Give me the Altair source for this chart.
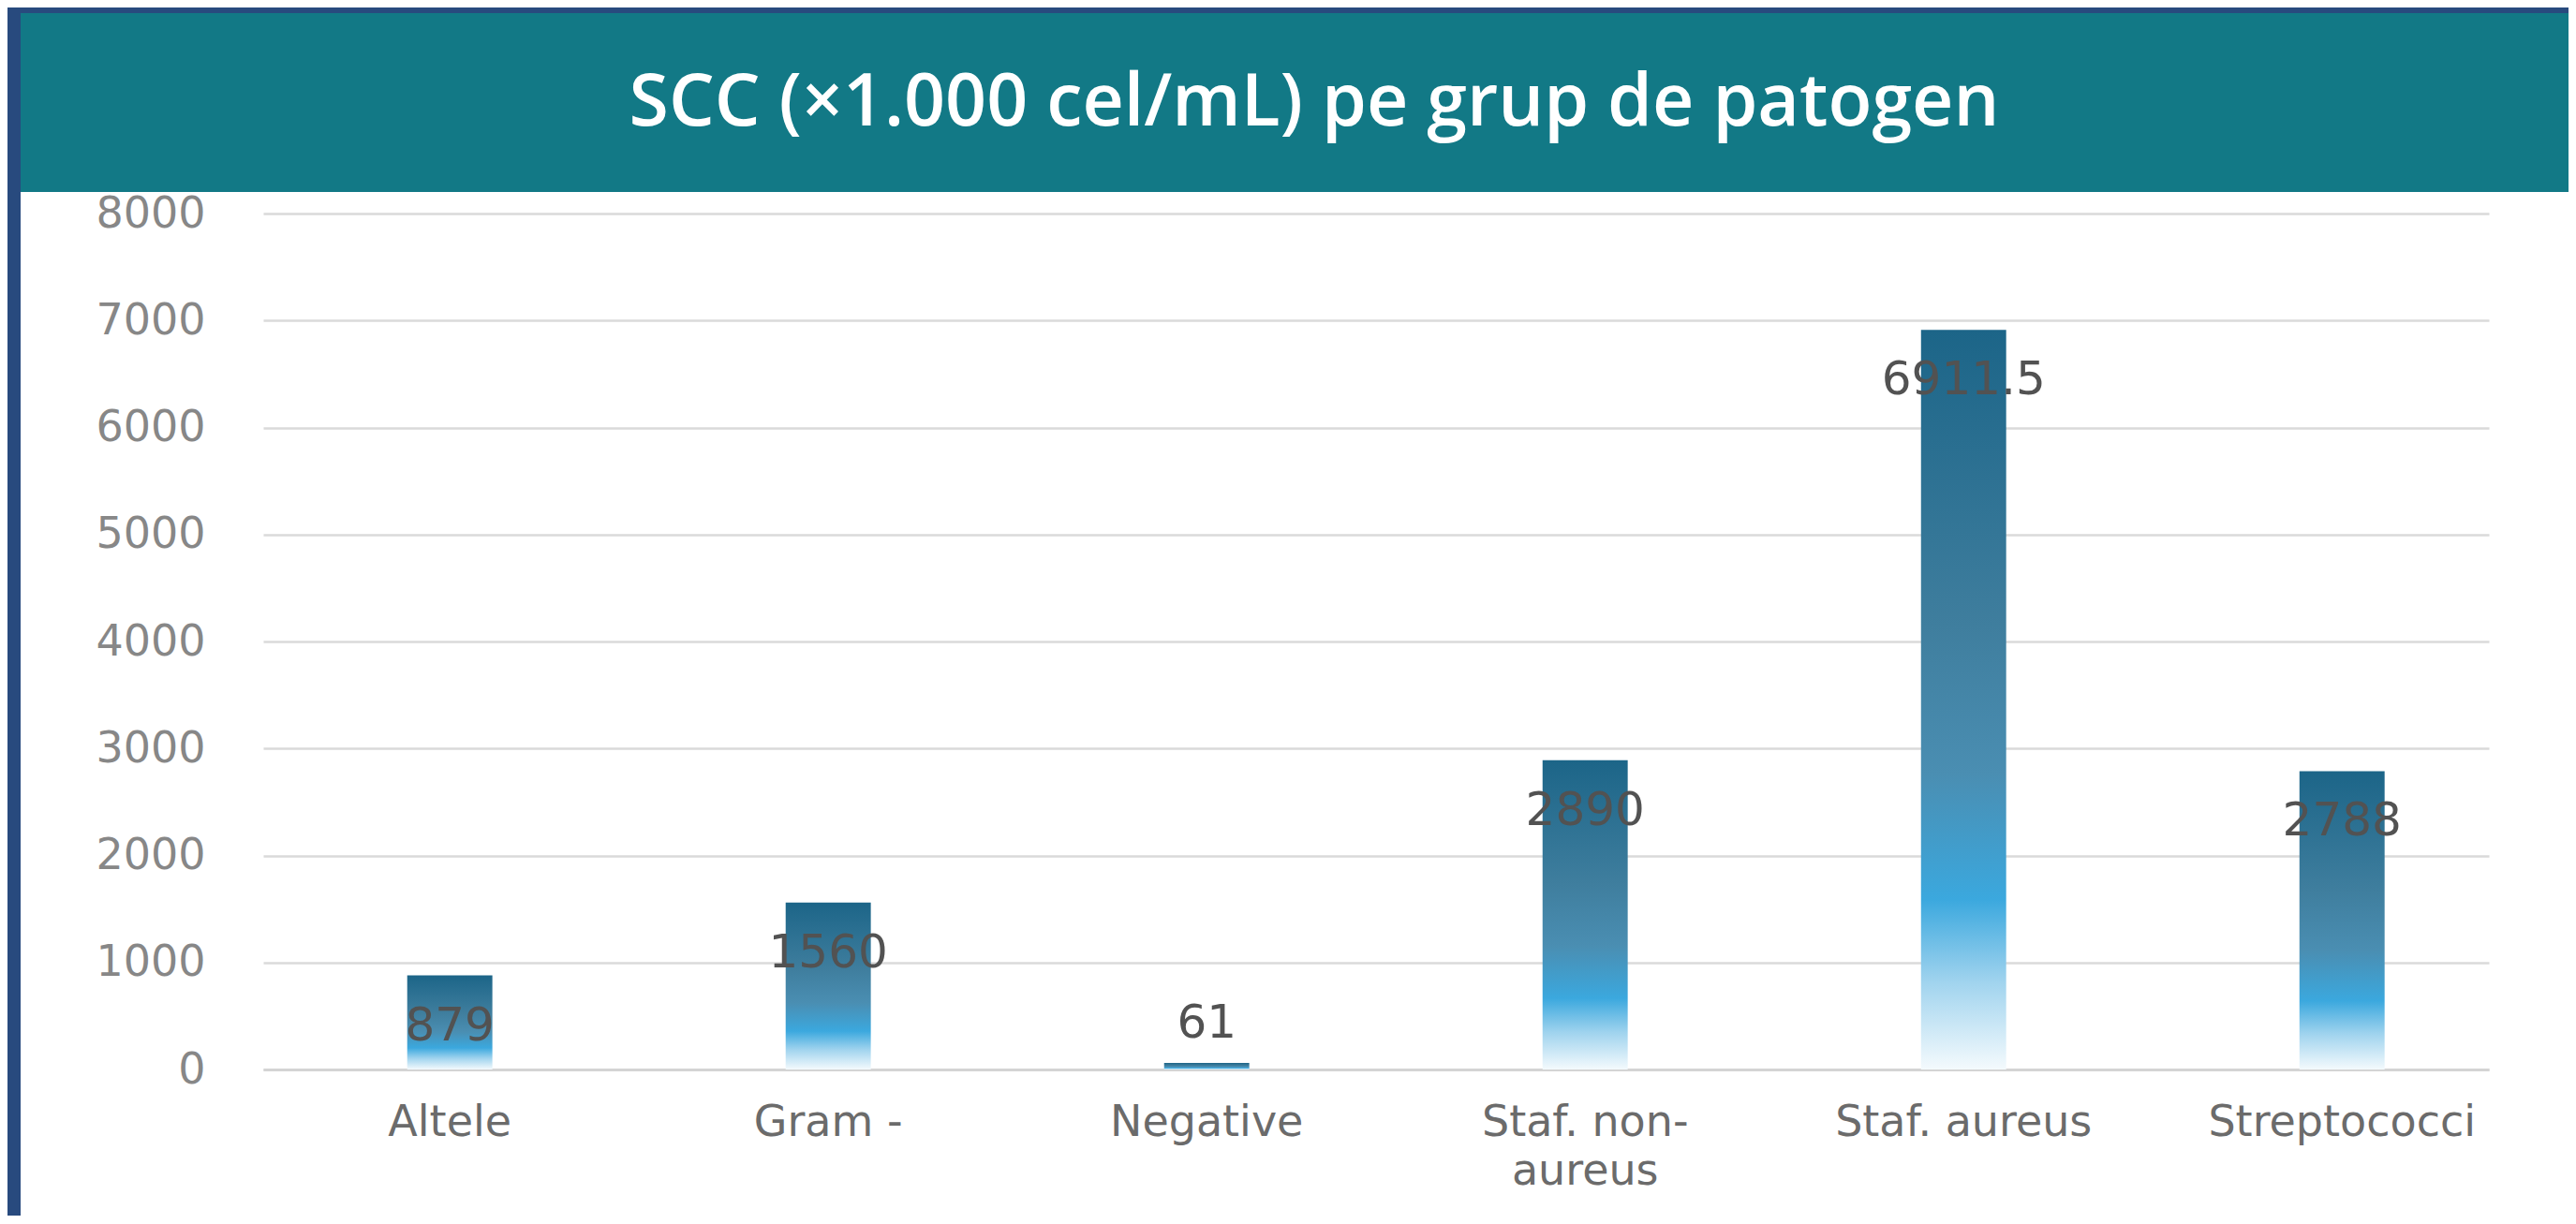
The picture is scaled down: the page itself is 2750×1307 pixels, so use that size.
import altair as alt
import pandas as pd

TITLE = "SCC (×1.000 cel/mL) pe grup de patogen"
categories = ["Altele", "Gram -", "Negative", "Staf. non-aureus", "Staf. aureus", "Streptococci"]
values = [879, 1560, 61, 2890, 6911.5, 2788]
value_labels = ["879", "1560", "61", "2890", "6911.5", "2788"]
y_ticks = [0, 1000, 2000, 3000, 4000, 5000, 6000, 7000, 8000]

df = pd.DataFrame({"cat": categories, "val": values, "lbl": value_labels})

DARK_BLUE = "#284a7e"
TEAL = "#127986"
FONT = "DejaVu Sans"

PLOT_LEFT = 259
PLOT_RIGHT = 2635

grad = alt.Gradient(
    gradient="linear", x1=0, x2=0, y1=0, y2=1,
    stops=[
        alt.GradientStop(offset=0, color="#1c6588"),
        alt.GradientStop(offset=0.40, color="#3f7e9e"),
        alt.GradientStop(offset=0.60, color="#4a8eb2"),
        alt.GradientStop(offset=0.77, color="#3ba8de"),
        alt.GradientStop(offset=0.88, color="#9fd3ee"),
        alt.GradientStop(offset=1, color="#f4fafd"),
    ],
)

x_scale = alt.Scale(range=[PLOT_LEFT, PLOT_RIGHT], paddingInner=0.775, paddingOuter=0.328, align=0.58)
x_enc = alt.X(
    "cat:N", sort=categories, scale=x_scale,
    axis=alt.Axis(
        title=None, labelAngle=0, labelFont=FONT, labelFontSize=46,
        labelColor="#6b6b6b", labelPadding=34, ticks=False, tickSize=0,
        domainColor="#d4d4d4", domainWidth=3, labelLineHeight=52, labelLimit=500,
        labelExpr="datum.label == 'Staf. non-aureus' ? ['Staf. non-', 'aureus'] : datum.label",
    ),
)
y_enc = alt.Y(
    "val:Q", scale=alt.Scale(domain=[0, 8000]),
    axis=alt.Axis(
        values=y_ticks, format="d", title=None, labelFont=FONT, labelFontSize=46,
        labelColor="#878787", labelPadding=62, ticks=False, tickSize=0,
        domain=False, gridColor="#dadada", gridWidth=2.5, offset=-PLOT_LEFT,
    ),
)

base = alt.Chart(df)
bars = base.mark_bar(color=grad).encode(x=x_enc, y=y_enc)
txt_in = base.transform_filter("datum.val >= 500").mark_text(
    font=FONT, fontSize=50, color="#525252", dy=54, baseline="middle"
).encode(x=alt.X("cat:N", sort=categories), y="val:Q", text="lbl:N")
txt_out = base.transform_filter("datum.val < 500").mark_text(
    font=FONT, fontSize=50, color="#525252", dy=-42, baseline="middle"
).encode(x=alt.X("cat:N", sort=categories), y="val:Q", text="lbl:N")

main = alt.layer(bars, txt_in, txt_out).properties(width=2720, height=914)

title_chart = alt.Chart(pd.DataFrame({"t": [TITLE]})).mark_text(
    font="Open Sans", fontSize=77, fontWeight=600, color="white",
    align="center", baseline="middle"
).encode(text="t:N", x=alt.value(1381), y=alt.value(97)).properties(
    width=2720, height=191, view=alt.ViewBackground(fill=TEAL, strokeWidth=0)
)

blank = pd.DataFrame({"a": [0]})
top_strip = alt.Chart(blank).mark_point(size=0, opacity=0, strokeWidth=0).encode(
    x=alt.value(0), y=alt.value(0)
).properties(width=2720, height=6, view=alt.ViewBackground(fill=DARK_BLUE, strokeWidth=0))

left_strip = alt.Chart(blank).mark_point(size=0, opacity=0, strokeWidth=0).encode(
    x=alt.value(0), y=alt.value(0)
).properties(width=14, height=1290, view=alt.ViewBackground(fill=DARK_BLUE, strokeWidth=0))

right = alt.vconcat(top_strip, title_chart, main, spacing=0)
chart = alt.hconcat(left_strip, right, spacing=0).properties(padding=0).configure(
    background="white"
).configure_view(strokeWidth=0)

chart.save("out.html", embed_options={"renderer": "svg", "actions": False})
